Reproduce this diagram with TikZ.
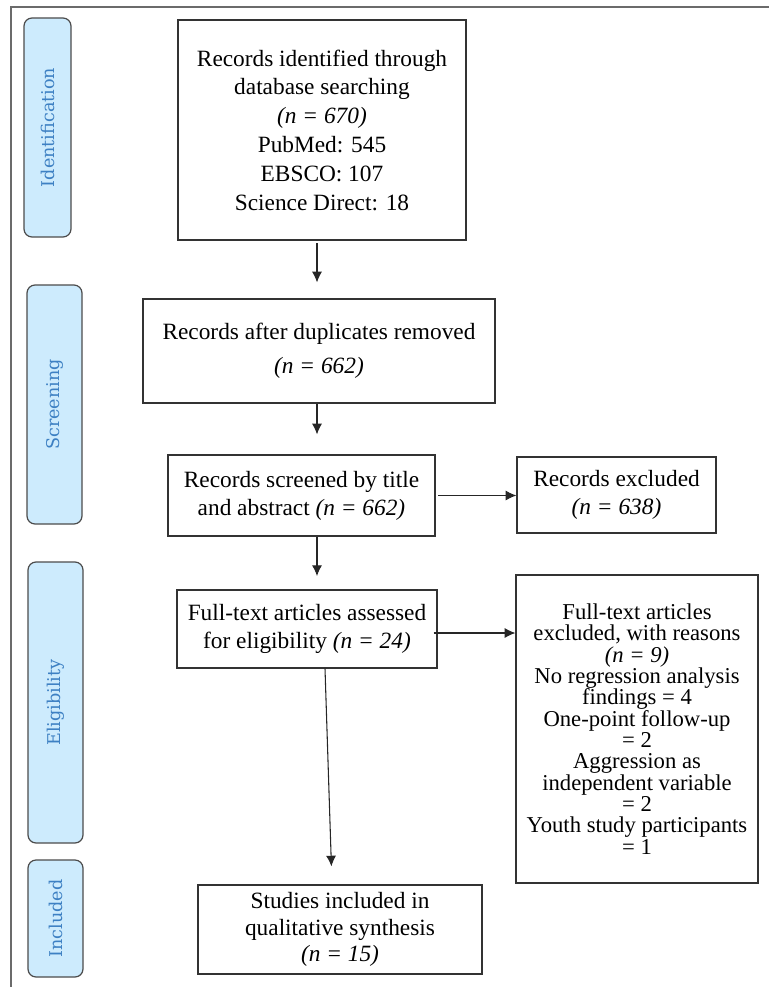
\documentclass[tikz,border=0pt]{standalone}
\usepackage{fontspec}
\setmainfont{Liberation Serif}
\newfontfamily\stagefont{DejaVu Serif}
\usepackage{tikz}
\usetikzlibrary{calc,arrows.meta}

\definecolor{stagefill}{HTML}{CDEBFD}
\definecolor{stagetext}{HTML}{3D80C3}
\definecolor{framegray}{HTML}{6B6B6B}
\newcommand{\tightlines}{\lineskiplimit=-100pt\relax}

\tikzset{
    box/.style={draw=black!80, line width=0.9pt, align=center, inner sep=0pt,
        font=\fontsize{17.5}{21}\selectfont},
    stage/.style={draw=black!70, line width=0.9pt, fill=stagefill, rounded corners=6pt,
        rotate=90, inner sep=0pt, text=stagetext, font=\stagefont\fontsize{13.2}{15}\selectfont},
    flow/.style={line width=0.8pt, black!85, -{Latex[length=8pt,width=7.5pt]}}
}

\begin{document}
\begin{tikzpicture}[x=0.75pt,y=-0.75pt]
        \useasboundingbox (0,0) rectangle (769,987);
        \draw[framegray, line width=1.5pt] (11,987) -- (11,7) -- (769,7);

        % stages
        \node[stage, minimum width=164.25pt, minimum height=35.25pt] (ident) at (47.5,127.5) {Identification};
        \node[stage, minimum width=179.25pt, minimum height=41.25pt] (screen) at (54.5,404.5) {Screening};
        \node[stage, minimum width=210.75pt, minimum height=41.25pt] (elig) at (55.5,702.5) {Eligibility};
        \node[stage, minimum width=87.75pt, minimum height=41.25pt] (incl) at (55.5,918.5) {Included};

        % boxes
        \node[box, minimum width=216pt, minimum height=165pt, font=\fontsize{17.5}{21.6}\selectfont] (found) at (322,130)
            {Records identified through\\database searching\\\textit{(n = 670)}\\PubMed: 545\\EBSCO: 107\\Science Direct: 18};
        \node[box, minimum width=264pt, minimum height=78pt, font=\fontsize{17.5}{25.5}\selectfont] (dedup) at (319,351)
            {Records after duplicates removed\\\textit{(n = 662)}};
        \node[box, minimum width=200.25pt, minimum height=60.75pt] (screened) at (301.5,495.5)
            {Records screened by title\\and abstract \textit{(n = 662)}};
        \node[box, minimum width=149.25pt, minimum height=57pt] (excl) at (616.5,495)
            {Records excluded\\\textit{(n = 638)}};
        \node[box, minimum width=195pt, minimum height=58.5pt] (fulltext) at (307,629)
            {Full-text articles assessed\\for eligibility \textit{(n = 24)}};
        \node[box, minimum width=181.5pt, minimum height=231pt,
            font=\fontsize{17}{16}\selectfont\tightlines] (ftexcl) at (637,729)
            {Full-text articles\\excluded, with reasons\\\textit{(n = 9)}\\No regression analysis\\findings = 4\\One-point follow-up\\= 2\\Aggression as\\independent variable\\= 2\\Youth study participants\\= 1};
        \node[box, minimum width=213pt, minimum height=66.75pt, font=\fontsize{17.5}{20}\selectfont] (synth) at (340,929.5)
            {Studies included in\\qualitative synthesis\\\textit{(n = 15)}};

        % arrows
        \coordinate (spine) at (317,0);
        \draw[flow, shorten <=2pt, shorten >=12pt] (found.south -| spine) -- (dedup.north -| spine);
        \draw[flow, shorten >=15pt] (dedup.south -| spine) -- (screened.north -| spine);
        \draw[flow, shorten >=10pt] (screened.south -| spine) -- (fulltext.north -| spine);
        \draw[flow, shorten <=2pt] (screened.east) -- (screened.east -| excl.west);
        \draw[flow] ([shift={(-3pt,-3pt)}]fulltext.east) -- ([yshift=-3pt]fulltext.east -| ftexcl.west);
        \draw[flow, shorten >=13.5pt] ([xshift=13.5pt]fulltext.south) -- ([xshift=-6pt]synth.north);
    \end{tikzpicture}
\end{document}
